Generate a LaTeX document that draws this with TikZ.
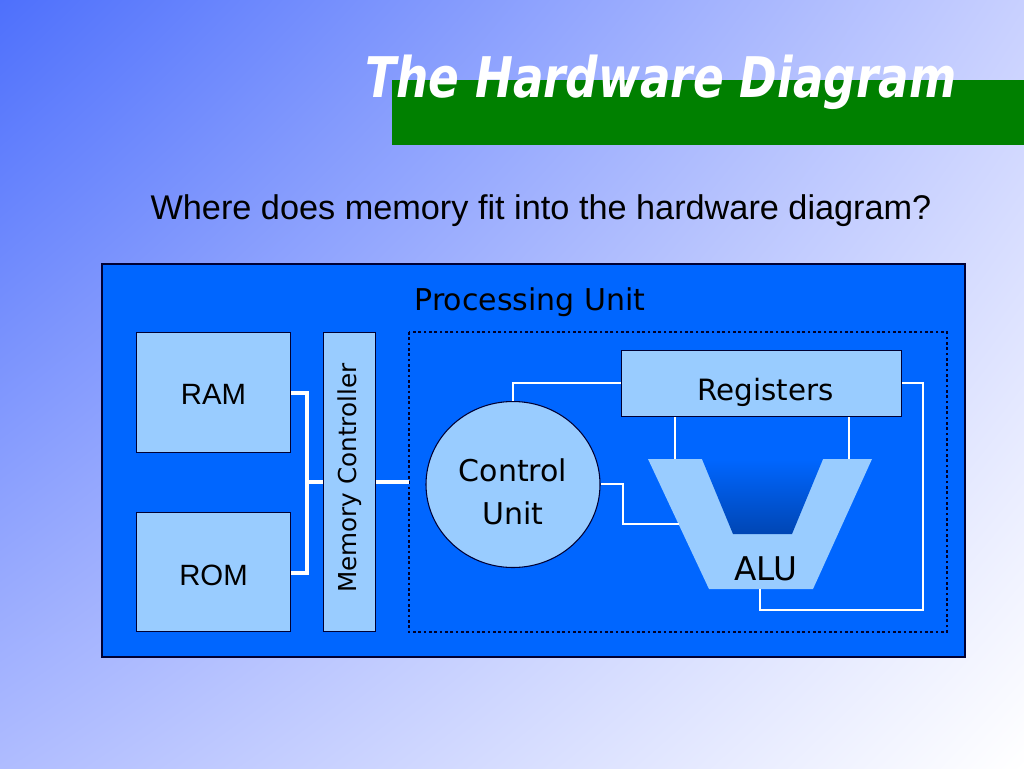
\documentclass[tikz,border=0pt]{standalone}
\usepackage{fontspec}
\setmainfont{Liberation Sans}
\newfontfamily\tah{DejaVu Sans}
\usetikzlibrary{calc,shadings,shapes.geometric}
\definecolor{bgA}{RGB}{78,112,252}
\definecolor{bgB}{RGB}{200,208,255}
\definecolor{bgC}{RGB}{175,188,255}
\definecolor{bgD}{RGB}{255,255,255}
\definecolor{panel}{RGB}{0,102,255}
\definecolor{lblue}{RGB}{153,204,255}
\definecolor{tgreen}{RGB}{0,128,0}
\definecolor{aluin}{RGB}{0,70,180}
\tikzset{
  box/.style={draw=black!80!blue, line width=0.8pt, fill=lblue},
  lbl/.style={font=\fontsize{22}{26}\selectfont},
  tlbl/.style={font=\tah\fontsize{22.5}{32}\selectfont, align=center},
  thick wire/.style={draw=white, line width=2.4pt},
  thin wire/.style={draw=white, line width=1.1pt},
}
\begin{document}
\begin{tikzpicture}[x=0.75pt,y=-0.75pt]
\useasboundingbox (0,0) rectangle (1024,768);
\shade[upper left=bgA, upper right=bgB, lower left=bgC, lower right=bgD] (0,0) rectangle (1024,768);
% title
\fill[tgreen] (392,80) rectangle (1024,145);
\node[anchor=base west, inner sep=0, text=white, font=\tah\bfseries\itshape\fontsize{42}{48}\selectfont] (title) at (365,97) {\scalebox{0.81}[1]{The Hardware Diagram}};
\node[anchor=base, inner sep=0, font=\fontsize{25.7}{30}\selectfont] (sub) at (541,219) {Where does memory fit into the hardware diagram?};
% panel
\draw[fill=panel, draw=black!80!blue, line width=0.8pt] (102,264) rectangle (965,657);
\node[tlbl, anchor=base] (pu) at (530,310) {Processing Unit};
\draw[black!85!blue, line width=2.2pt, dash pattern=on 2pt off 2pt] (409,332) rectangle (947,632);
% memory side
\node[box, minimum width=115.5pt, minimum height=90pt, anchor=north west, inner sep=0] (ram) at (136,332) {};
\node[lbl] at ($(ram.center)+(0,2)$) {RAM};
\node[box, minimum width=115.5pt, minimum height=89pt, anchor=north west, inner sep=0] (rom) at (136,512) {};
\node[lbl] at ($(rom.center)+(0,4)$) {ROM};
\node[box, minimum width=39pt, minimum height=224.25pt, anchor=north west, inner sep=0] (mc) at (323,332) {};
\node[font=\tah\fontsize{18.5}{22}\selectfont, rotate=90] at ($(mc.center)+(0,-4)$) {Memory Controller};
\coordinate (bx) at (307,482);
\coordinate (dl) at (409,482);
\draw[thick wire] (ram.east |- 0,393) -| (bx) |- (rom.east |- 0,573);
\draw[thick wire] (bx) -- (mc.west |- bx);
\draw[thick wire] (mc.east |- bx) -- (dl);
% processing unit
\node[box, ellipse, minimum width=130.5pt, minimum height=124.5pt, inner sep=0] (cu) at (513,484.5) {};
\node[tlbl] at ($(cu.center)+(0,7)$) {Control\\Unit};
\node[box, minimum width=210pt, minimum height=49.5pt, anchor=north west, inner sep=0] (reg) at (621,350) {};
\node[tlbl, font=\tah\fontsize{22}{26}\selectfont] at ($(reg.center)+(4,9)$) {Registers};
% ALU
\fill[lblue] (648,459) -- (872,459) -- (813,589) -- (709,589) -- cycle;
\shade[top color=panel, bottom color=aluin] (702,459) -- (823,459) -- (792,534) -- (733,534) -- cycle;
\node[tlbl, font=\tah\fontsize{24.5}{28}\selectfont] (alu) at (766,569) {ALU};
\coordinate (alub) at (760,589);
\coordinate (alul) at (679,524);
\coordinate (alut1) at (675,459);
\coordinate (alut2) at (849,459);
% wires
\draw[thin wire] (cu.north) |- (reg.west |- 0,383);
\draw[thin wire] (reg.south -| alut1) -- (alut1);
\draw[thin wire] (reg.south -| alut2) -- (alut2);
\draw[thin wire] (cu.east |- 0,484) -- (623,484) |- (alul);
\draw[thin wire] (reg.east |- 0,383) -- (923,383) |- (alub |- 0,610) -- (alub);
\end{tikzpicture}
\end{document}
